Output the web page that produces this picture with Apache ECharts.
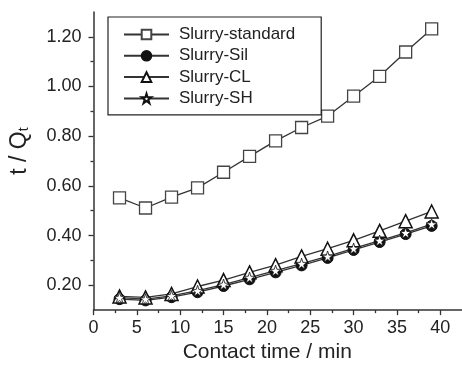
<!DOCTYPE html>
<html>
<head>
<meta charset="utf-8">
<script src="https://cdn.jsdelivr.net/npm/echarts@6/dist/echarts.min.js"></script>
<style>html,body{margin:0;padding:0;background:#fff}#c{width:462px;height:368px}</style>
</head>
<body>
<div id="c"></div>
<script>
var contactTime = [3, 6, 9, 12, 15, 18, 21, 24, 27, 30, 33, 36, 39];
var slurryStandard = [0.552, 0.511, 0.555, 0.592, 0.655, 0.719, 0.781, 0.835, 0.881, 0.961, 1.041, 1.139, 1.232];
var slurrySil = [0.144, 0.139, 0.152, 0.172, 0.197, 0.224, 0.252, 0.280, 0.310, 0.342, 0.374, 0.406, 0.439];
var slurryCL = [0.155, 0.151, 0.165, 0.195, 0.221, 0.252, 0.281, 0.316, 0.347, 0.381, 0.419, 0.458, 0.497];
var slurrySH = [0.150, 0.144, 0.157, 0.178, 0.203, 0.231, 0.259, 0.287, 0.316, 0.348, 0.380, 0.411, 0.446];
var xMajorTicks = [0, 5, 10, 15, 20, 25, 30, 35, 40];
var xMinorTicks = [2.5, 7.5, 12.5, 17.5, 22.5, 27.5, 32.5, 37.5];
var yMajorTicks = [0.2, 0.4, 0.6, 0.8, 1.0, 1.2];
var yMinorTicks = [0.3, 0.5, 0.7, 0.9, 1.1];

var FONT = '"Liberation Sans", Arial, sans-serif';
var AX = '#333';
var STAR = 'path://M50,0 L61.2,34.5 L97.6,34.5 L68.2,55.9 L79.4,90.5 L50,69.1 L20.6,90.5 L31.8,55.9 L2.4,34.5 L38.8,34.5 Z';

function pairs(ys) { return contactTime.map(function (x, i) { return [x, ys[i]]; }); }

var chart = echarts.init(document.getElementById('c'), null, {renderer: 'canvas'});
var lineStyle = {color: '#333', width: 1.3};
chart.setOption({
  animation: false,
  textStyle: {fontFamily: FONT},
  grid: {left: 93, top: 12, width: 369, height: 300, containLabel: false},
  xAxis: [{
    type: 'value', min: 0, max: 42.5,
    axisLine: {lineStyle: {color: AX, width: 1.5}},
    axisTick: {customValues: xMajorTicks, length: 5, lineStyle: {color: AX, width: 1.3}},
    axisLabel: {customValues: xMajorTicks, margin: 9, color: '#222', fontSize: 18, fontFamily: FONT},
    splitLine: {show: false},
    name: 'Contact time / min', nameLocation: 'middle', nameGap: 31,
    nameTextStyle: {fontSize: 21, color: '#222', fontFamily: FONT, padding: [0, 21, 0, 0]}
  }, {
    type: 'value', min: 0, max: 42.5, position: 'bottom',
    axisLine: {show: false},
    axisTick: {customValues: xMinorTicks, length: 3, lineStyle: {color: AX, width: 1.3}},
    axisLabel: {show: false}, splitLine: {show: false}
  }],
  yAxis: [{
    type: 'value', min: 0.1, max: 1.3,
    axisLine: {show: true, lineStyle: {color: AX, width: 1.5}},
    axisTick: {show: true, customValues: yMajorTicks, length: 5, lineStyle: {color: AX, width: 1.3}},
    axisLabel: {customValues: yMajorTicks, margin: 12, color: '#222', fontSize: 18, fontFamily: FONT,
      formatter: function (v) { return v.toFixed(2); }},
    splitLine: {show: false},
    name: 't / Q{sub|t}', nameLocation: 'middle', nameGap: 62, nameRotate: 90,
    nameTextStyle: {fontSize: 23, color: '#222', fontFamily: FONT, padding: [0, 0, 0, 20],
      rich: {sub: {fontSize: 14, color: '#222', fontFamily: FONT, verticalAlign: 'bottom', padding: [10, 0, 0, 0]}}}
  }, {
    type: 'value', min: 0.1, max: 1.3, position: 'left',
    axisLine: {show: false},
    axisTick: {show: true, customValues: yMinorTicks, length: 3, lineStyle: {color: AX, width: 1.3}},
    axisLabel: {show: false}, splitLine: {show: false}
  }],
  legend: {
    orient: 'vertical', left: 108, top: 17,
    padding: [9, 26, 8, 15],
    borderColor: '#222', borderWidth: 1.2,
    itemWidth: 45, itemHeight: 12, itemGap: 4.3,
    textStyle: {fontSize: 17, lineHeight: 17, color: '#222', fontFamily: FONT, padding: [0, 0, 0, 5]},
    data: ['Slurry-standard', 'Slurry-Sil', 'Slurry-CL', 'Slurry-SH']
  },
  series: [{
    name: 'Slurry-standard', type: 'line', data: pairs(slurryStandard),
    symbol: 'rect', symbolSize: 12,
    itemStyle: {color: '#fff', borderColor: '#444', borderWidth: 1.3},
    lineStyle: lineStyle
  }, {
    name: 'Slurry-Sil', type: 'line', data: pairs(slurrySil),
    symbol: 'circle', symbolSize: 11,
    itemStyle: {color: '#111', borderColor: '#111', borderWidth: 1},
    lineStyle: lineStyle
  }, {
    name: 'Slurry-CL', type: 'line', data: pairs(slurryCL),
    symbol: 'triangle', symbolSize: 13,
    itemStyle: {color: '#fff', borderColor: '#111', borderWidth: 1.5},
    lineStyle: lineStyle
  }, {
    name: 'Slurry-SH', type: 'line', data: pairs(slurrySH),
    symbol: STAR, symbolSize: 11,
    itemStyle: {color: '#fff', borderColor: '#111', borderWidth: 0.8},
    lineStyle: lineStyle
  }]
});
</script>
</body>
</html>
